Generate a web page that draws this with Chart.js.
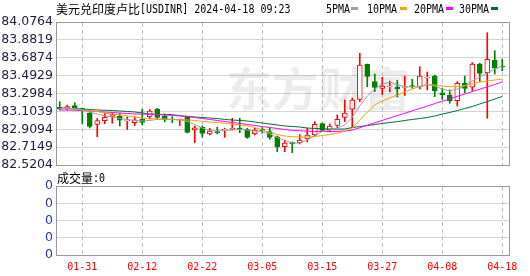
<!DOCTYPE html>
<html>
<head>
<meta charset="utf-8">
<script src="https://cdn.jsdelivr.net/npm/chart.js@4.4.1/dist/chart.umd.min.js"></script>
<style>
  body { margin: 0; background: #fff; }
  #wrap { position: relative; width: 530px; height: 276px; overflow: hidden; }
  canvas { position: absolute; left: 0; }
  .txt { position: absolute; white-space: nowrap; color: #000; line-height: 12px; height: 12px; }
  .cn { font-family: "Noto Sans CJK SC"; font-size: 12px; line-height: 12px; vertical-align: top; }
  .mono { display: inline-block; font-family: "DejaVu Sans Mono"; font-size: 10px; line-height: 12px; transform: scaleY(1.2); vertical-align: top; }
  .sw { position: absolute; width: 7px; height: 3px; top: 7px; }
</style>
</head>
<body>
<div id="wrap">
  <canvas id="main" width="530" height="182" style="top:0"></canvas>
  <canvas id="vol" width="530" height="106" style="top:170px"></canvas>
  <div class="txt" style="left:56px;top:3px"><span class="cn">美元兑印度卢比</span><span class="mono">[USDINR] 2024-04-18 09:23</span></div>
  <div class="txt" style="left:326px;top:3px"><span class="mono">5PMA</span></div>
  <div class="sw" style="left:351px;background:#a0a0a0"></div>
  <div class="txt" style="left:367px;top:3px"><span class="mono">10PMA</span></div>
  <div class="sw" style="left:400px;background:#f5a300"></div>
  <div class="txt" style="left:414px;top:3px"><span class="mono">20PMA</span></div>
  <div class="sw" style="left:446px;background:#ff00ff"></div>
  <div class="txt" style="left:459px;top:3px"><span class="mono">30PMA</span></div>
  <div class="sw" style="left:491px;background:#00702a"></div>
  <div class="txt" style="left:57px;top:172px"><span class="cn">成交量</span><span class="mono">:0</span></div>
</div>
<script>
// trading days shown on the chart
const dates = ['01-26','01-29','01-30','01-31','02-01','02-02','02-05','02-06','02-07','02-08','02-09','02-12',
  '02-13','02-14','02-15','02-16','02-19','02-20','02-21','02-22',
  '02-23','02-26','02-27','02-28','02-29','03-01','03-04','03-05',
  '03-06','03-07','03-08','03-11','03-12','03-13','03-14','03-15',
  '03-18','03-19','03-20','03-21','03-22','03-25','03-26','03-27',
  '03-28','03-29','04-01','04-02','04-03','04-04','04-05','04-08',
  '04-09','04-10','04-11','04-12','04-15','04-16','04-17','04-18'];

const open = [83.148,83.137,83.166,83.133,83.086,82.961,83.002,83.050,83.054,82.999,
  82.981,83.021,83.043,83.127,83.054,83.016,83.010,83.039,82.901,82.934,
  82.858,82.883,82.901,82.909,82.920,82.907,82.858,82.907,82.885,82.828,
  82.720,82.763,82.763,82.803,82.847,82.972,82.901,82.950,83.039,83.127,
  83.235,83.617,83.429,83.355,83.372,83.369,83.364,83.385,83.369,83.467,
  83.489,83.307,83.282,83.220,83.409,83.366,83.619,83.525,83.663,83.598];
const high = [83.209,83.173,83.198,83.137,83.113,83.026,83.086,83.090,83.083,83.043,
  83.043,83.127,83.124,83.137,83.075,83.046,83.021,83.054,82.945,82.945,
  82.920,82.931,82.920,83.029,83.029,82.920,82.920,82.928,82.923,82.836,
  82.792,82.771,82.852,82.918,82.992,82.977,82.967,83.065,83.228,83.249,
  83.736,83.619,83.511,83.475,83.434,83.440,83.486,83.453,83.590,83.532,
  83.500,83.355,83.337,83.427,83.489,83.634,83.627,83.960,83.764,83.671];
const low = [83.119,83.119,83.127,82.972,82.923,82.828,82.970,82.974,82.945,82.907,
  82.950,82.956,83.021,83.018,82.992,82.981,82.950,82.869,82.763,82.825,
  82.847,82.858,82.822,82.901,82.872,82.811,82.847,82.865,82.800,82.665,
  82.665,82.654,82.749,82.771,82.836,82.885,82.880,82.928,82.992,82.926,
  83.209,83.372,83.320,83.288,83.315,83.260,83.277,83.355,83.347,83.337,
  83.264,83.235,83.192,83.162,83.307,83.329,83.427,83.029,83.511,83.546];
const close = [83.130,83.155,83.137,83.119,82.939,83.005,83.039,83.068,83.007,83.013,
  83.013,82.983,83.108,83.039,83.010,83.010,83.016,82.874,82.926,82.865,
  82.890,82.872,82.909,82.920,82.909,82.820,82.901,82.890,82.820,82.716,
  82.760,82.752,82.792,82.847,82.963,82.898,82.945,83.018,83.086,83.228,
  83.609,83.483,83.364,83.380,83.380,83.347,83.372,83.375,83.489,83.475,
  83.329,83.282,83.220,83.409,83.355,83.619,83.518,83.671,83.573,83.590];

// moving averages
const ma5 = [83.135,83.133,83.130,83.119,83.097,83.075,83.054,83.043,83.026,83.016,
  83.005,82.999,83.005,83.016,83.021,83.016,83.010,82.994,82.961,82.923,
  82.896,82.890,82.896,82.901,82.907,82.901,82.890,82.880,82.858,82.820,
  82.787,82.760,82.760,82.792,82.836,82.885,82.901,82.923,82.956,83.043,
  83.162,83.271,83.347,83.402,83.424,83.391,83.375,83.369,83.375,83.396,
  83.380,83.347,83.326,83.347,83.380,83.434,83.478,83.522,83.565,83.598];
const ma10 = [83.137,83.135,83.130,83.119,83.111,83.103,83.086,83.075,83.065,83.054,
  83.043,83.032,83.026,83.021,83.018,83.016,83.016,83.010,83.005,82.994,
  82.988,82.983,82.974,82.967,82.956,82.945,82.928,82.901,82.874,82.852,
  82.836,82.828,82.825,82.825,82.831,82.841,82.852,82.869,82.885,82.923,
  83.010,83.097,83.173,83.217,83.249,83.282,83.315,83.347,83.375,83.396,
  83.391,83.380,83.372,83.375,83.385,83.402,83.424,83.434,83.445,83.456];
const ma20 = [83.119,83.119,83.116,83.113,83.108,83.103,83.097,83.092,83.086,83.081,
  83.075,83.075,83.073,83.070,83.065,83.059,83.054,83.048,83.037,83.026,
  83.016,83.005,82.994,82.983,82.974,82.961,82.950,82.939,82.928,82.918,
  82.907,82.898,82.893,82.888,82.885,82.885,82.885,82.887,82.890,82.901,
  82.927,82.954,82.980,83.006,83.032,83.058,83.084,83.110,83.136,83.162,
  83.189,83.215,83.241,83.267,83.293,83.319,83.345,83.371,83.397,83.424];
const ma30 = [83.141,83.137,83.133,83.130,83.124,83.119,83.116,83.113,83.108,83.103,
  83.097,83.086,83.075,83.072,83.070,83.068,83.059,83.048,83.043,83.037,
  83.032,83.026,83.016,83.010,83.005,82.999,82.988,82.977,82.967,82.956,
  82.945,82.939,82.934,82.923,82.918,82.914,82.912,82.912,82.912,82.928,
  82.939,82.950,82.961,82.972,82.983,82.992,83.005,83.016,83.026,83.037,
  83.054,83.075,83.092,83.113,83.135,83.157,83.184,83.211,83.239,83.266];

const vol = [0,0,0,0,0,0,0,0,0,0, 0,0,0,0,0,0,0,0,0,0, 0,0,0,0,0,0,0,0,0,0,
  0,0,0,0,0,0,0,0,0,0, 0,0,0,0,0,0,0,0,0,0, 0,0,0,0,0,0,0,0,0,0];

const priceTicks = [82.5204,82.7149,82.9094,83.1039,83.2984,83.4929,83.6874,83.8819,84.0764];
const volTicks = [0,1,2,3,4];
const volTickLabels = ['0','0','0','0','0'];
const labelIdx = [3,11,19,27,35,43,51,59];

const RED = '#ff0000', GREEN = '#008000';
const up = close.map((c, i) => c >= open[i]);

const xScale = (showLabels) => ({
  type: 'linear', min: -0.5, max: 60.03, offset: false,
  afterBuildTicks: s => { s.ticks = labelIdx.map(v => ({ value: v })); },
  afterFit: s => { s.height = showLabels ? 21 : 0; },
  grid: { display: false },
  border: { display: false },
  ticks: {
    display: showLabels, autoSkip: false, color: '#ff0000', padding: -2, maxRotation: 0,
    font: { family: 'DejaVu Sans Mono', size: 10 },
    callback: v => dates[v]
  }
});

const yScale = (min, max, tickVals, color, fmt) => ({
  min: min, max: max,
  afterBuildTicks: s => { s.ticks = tickVals.map(v => ({ value: v })); },
  afterFit: s => { s.width = 56; },
  grid: { color: '#d4d4d4', drawTicks: false },
  border: { display: false },
  ticks: {
    autoSkip: false, color: color, padding: 3,
    font: { family: 'DejaVu Sans', size: 12.5 },
    callback: fmt
  }
});

const frame = {
  id: 'frame',
  beforeDatasetsDraw(c, args, opts) {
    const a = c.chartArea, ctx = c.ctx, xs = c.scales.x;
    ctx.save();
    if (opts.mark) {
      ctx.fillStyle = 'rgba(0,0,0,0.075)';
      ctx.font = 'bold 46px "Noto Sans CJK SC"';
      ctx.textBaseline = 'middle';
      ctx.fillText('东方财富', 226, 89);
    }
    // dashed date lines at the labelled ticks
    ctx.fillStyle = '#bdbdbd';
    for (const v of labelIdx) {
      const px = Math.round(xs.getPixelForValue(v) - 0.5);
      for (let y = a.top + 1; y < a.bottom; y += 7) {
        ctx.fillRect(px, y, 1, Math.min(4, a.bottom - y));
      }
    }
    ctx.restore();
  },
  afterDraw(c) {
    const a = c.chartArea, ctx = c.ctx;
    ctx.save();
    ctx.strokeStyle = '#999999';
    ctx.lineWidth = 1;
    ctx.strokeRect(a.left + 0.5, a.top + 0.5, a.right - a.left - 1, a.bottom - a.top);
    ctx.restore();
  }
};

const maLine = (label, arr, color) => ({
  type: 'line', label: label,
  data: arr.map((v, i) => ({ x: i, y: v })),
  borderColor: color, borderWidth: 1, pointRadius: 0, tension: 0, order: 1
});

new Chart(document.getElementById('main'), {
  type: 'bar',
  data: {
    datasets: [
      {
        label: 'wick', order: 3, grouped: false, barThickness: 1,
        data: low.map((l, i) => ({ x: i, y: [l, high[i]] })),
        backgroundColor: up.map(u => u ? RED : GREEN)
      },
      {
        label: 'body', order: 2, grouped: false, barThickness: 5,
        data: open.map((o, i) => ({ x: i, y: [o, close[i]] })),
        backgroundColor: up.map(u => u ? '#ffffff' : GREEN),
        borderColor: up.map(u => u ? RED : GREEN),
        borderWidth: 1, borderSkipped: false
      },
      maLine('5PMA', ma5, '#a0a0a0'),
      maLine('10PMA', ma10, '#f5a300'),
      maLine('20PMA', ma20, '#ff00ff'),
      maLine('30PMA', ma30, '#00702a')
    ]
  },
  options: {
    responsive: false, animation: false,
    layout: { padding: { top: 22, right: 20, bottom: 17, left: 0 } },
    plugins: { legend: { display: false }, tooltip: { enabled: false }, frame: { mark: true } },
    scales: {
      x: xScale(false),
      y: yScale(82.5204, 84.0764, priceTicks, '#1c1c40', v => v.toFixed(4))
    }
  },
  plugins: [frame]
});

new Chart(document.getElementById('vol'), {
  type: 'bar',
  data: {
    datasets: [{
      label: 'vol', data: vol.map((v, i) => ({ x: i, y: v })),
      backgroundColor: RED, barThickness: 5, inflateAmount: 0
    }]
  },
  options: {
    responsive: false, animation: false,
    layout: { padding: { top: 16, right: 20, bottom: 0, left: 0 } },
    plugins: { legend: { display: false }, tooltip: { enabled: false }, frame: { mark: false } },
    scales: {
      x: xScale(true),
      y: yScale(0, 4, volTicks, '#203c8c', (v, i) => volTickLabels[i])
    }
  },
  plugins: [frame]
});
</script>
</body>
</html>
